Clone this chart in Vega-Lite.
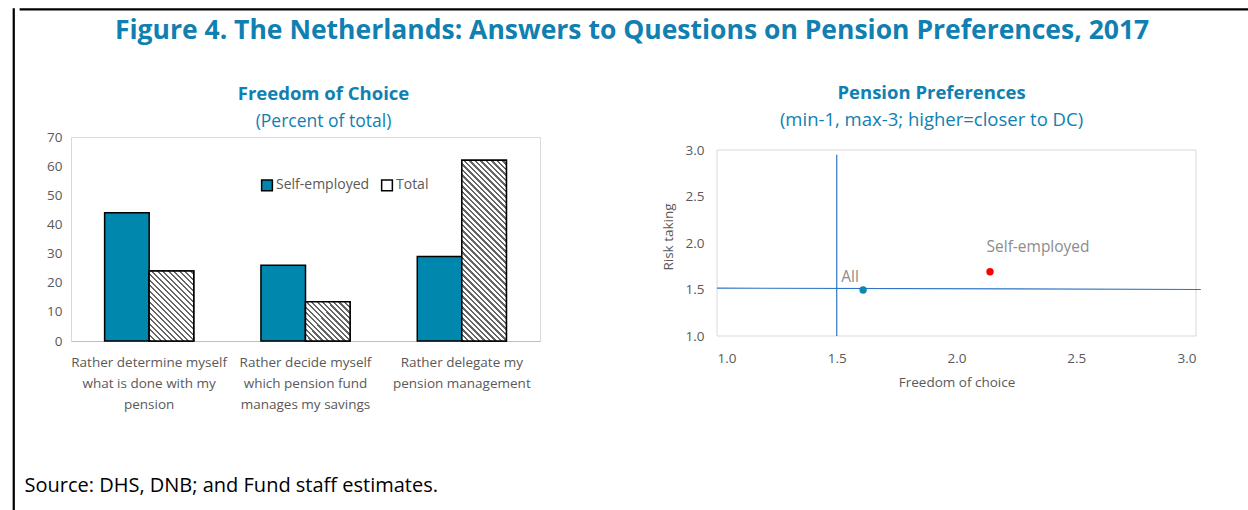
{
 "$schema": "https://vega.github.io/schema/vega-lite/v6.json",
 "background": "white",
 "padding": {"left": 10, "top": 5.5, "right": 0, "bottom": 0},
 "spacing": 0,
 "config": {
   "font": "Open Sans",
   "view": {"stroke": null},
   "axis": {"labelFont": "Open Sans", "titleFont": "Open Sans", "labelColor": "#595959", "titleColor": "#595959", "labelFontSize": 13.5, "titleFontSize": 13.5, "titleFontWeight": "normal", "grid": false},
   "legend": {"labelFont": "Open Sans"},
   "title": {"font": "Open Sans", "subtitleFont": "Open Sans"}
 },
 "hconcat": [
   {"width": 1, "height": 503, "data": {"values": [{}]}, "mark": {"type": "point", "opacity": 0}, "view": {"stroke": "#000", "strokeWidth": 1.25}},
   {"spacing": 5.5, "vconcat": [
     {"width": 1235, "height": 1, "data": {"values": [{}]}, "mark": {"type": "point", "opacity": 0}, "view": {"stroke": "#000", "strokeWidth": 1.25}},
     {"title": {"text": "Figure 4. The Netherlands: Answers to Questions on Pension Preferences, 2017", "fontSize": 26.5, "fontWeight": "bold", "color": "#0f80b1", "anchor": "middle", "dx": 22.5, "offset": 39},
      "spacing": 0,
      "hconcat": [
       {"width": 1, "height": 1, "data": {"values": [{}]}, "mark": {"type": "point", "opacity": 0}},
       {"spacing": 120,
        "resolve": {"scale": {"color": "independent"}, "legend": {"color": "independent"}},
        "title": {"text": "Source: DHS, DNB; and Fund staff estimates.", "orient": "bottom", "anchor": "start", "fontSize": 20, "fontWeight": "normal", "color": "#000000", "dx": 0, "offset": 65},
        "hconcat": [
         {
          "width": 469, "height": 204,
          "view": {"stroke": "#d9d9d9", "strokeWidth": 1},
          "title": {"text": "Freedom of Choice", "subtitle": "(Percent of total)", "fontSize": 18.5, "fontWeight": "bold", "color": "#0f80b1", "subtitleColor": "#0f80b1", "subtitleFontSize": 17.5, "subtitlePadding": 9.5, "anchor": "middle", "frame": "group", "dx": 18, "offset": 0},
          "data": {"values": [
            {"q": "Rather determine myself what is done with my pension", "series": "Self-employed", "value": 44},
            {"q": "Rather determine myself what is done with my pension", "series": "Total", "value": 24},
            {"q": "Rather decide myself which pension fund manages my savings", "series": "Self-employed", "value": 26},
            {"q": "Rather decide myself which pension fund manages my savings", "series": "Total", "value": 13.5},
            {"q": "Rather delegate my pension management", "series": "Self-employed", "value": 29},
            {"q": "Rather delegate my pension management", "series": "Total", "value": 62}
          ]},
          "resolve": {"axis": {"x": "independent"}},
          "encoding": {
            "xOffset": {"field": "series", "type": "nominal", "sort": ["Self-employed", "Total"], "scale": {"paddingInner": 0, "paddingOuter": 0}},
            "y": {"field": "value", "type": "quantitative", "scale": {"domain": [0, 70], "nice": false},
                  "axis": {"title": null, "values": [0, 10, 20, 30, 40, 50, 60, 70], "domain": false, "ticks": false, "labelPadding": 9, "minExtent": 46}}
          },
          "layer": [
            {"mark": {"type": "bar", "stroke": "#000000", "strokeWidth": 1.5},
             "encoding": {
               "x": {"field": "q", "type": "nominal", "sort": null, "scale": {"paddingInner": 0.43, "paddingOuter": 0.215},
                  "axis": {"title": null, "orient": "bottom", "labelAngle": 0, "domain": true, "domainColor": "#bfbfbf", "ticks": false, "labelLineHeight": 21, "labelPadding": 14, "labelBaseline": "top",
                           "labelExpr": "datum.label == 'Rather determine myself what is done with my pension' ? ['Rather determine myself', 'what is done with my', 'pension'] : datum.label == 'Rather decide myself which pension fund manages my savings' ? ['Rather decide myself', 'which pension fund', 'manages my savings'] : ['Rather delegate my', 'pension management']"}},
               "color": {"field": "series", "type": "nominal", "scale": {"domain": ["Self-employed", "Total"], "range": ["#0087ad", "#ffffff"]},
               "legend": {"title": null, "orient": "none", "legendX": 189, "legendY": 41, "direction": "horizontal", "padding": 0, "symbolType": "square", "symbolSize": 115, "symbolStrokeColor": "#000000", "symbolStrokeWidth": 1.5, "symbolOpacity": 1, "labelFontSize": 14, "labelColor": "#595959", "columnPadding": 8, "labelOffset": 2,
                 "encode": {"symbols": {"update": {"fill": [{"test": "datum.value === 'Total'", "value": {"gradient": "linear", "x1": 0, "y1": 1, "x2": 1, "y2": 0, "stops": [{"offset": 0, "color": "#fff"}, {"offset": 0.2, "color": "#fff"}, {"offset": 0.2, "color": "#555"}, {"offset": 0.3, "color": "#555"}, {"offset": 0.3, "color": "#fff"}, {"offset": 0.44, "color": "#fff"}, {"offset": 0.44, "color": "#333"}, {"offset": 0.56, "color": "#333"}, {"offset": 0.56, "color": "#fff"}, {"offset": 0.7, "color": "#fff"}, {"offset": 0.7, "color": "#555"}, {"offset": 0.8, "color": "#555"}, {"offset": 0.8, "color": "#fff"}, {"offset": 1, "color": "#fff"}]}}, {"value": "#0087ad"}], "stroke": {"value": "#000000"}}}}}}}},
            {"transform": [{"filter": "datum.series === 'Total'"}],
             "mark": {"type": "bar", "stroke": "#000000", "strokeWidth": 1.5},
             "encoding": {
               "x": {"field": "q", "type": "nominal", "sort": null,
                  "axis": {"title": null, "orient": "bottom", "labels": false, "domain": false, "ticks": true, "tickBand": "extent", "tickSize": 4.5, "offset": -4.5, "tickColor": "#bfbfbf", "tickWidth": 1}},
               "fill": {
               "condition": [
                 {"test": "datum.q === 'Rather determine myself what is done with my pension'", "value": {"gradient": "linear", "x1": 0, "y1": 1, "x2": 0.8909, "y2": -0.3984, "stops": [
{"offset":0,"color":"#666"},{"offset":0.016,"color":"#666"},{"offset":0.016,"color":"#fff"},{"offset":0.04,"color":"#fff"},
{"offset":0.04,"color":"#666"},{"offset":0.056,"color":"#666"},{"offset":0.056,"color":"#fff"},{"offset":0.08,"color":"#fff"},
{"offset":0.08,"color":"#666"},{"offset":0.096,"color":"#666"},{"offset":0.096,"color":"#fff"},{"offset":0.12,"color":"#fff"},
{"offset":0.12,"color":"#666"},{"offset":0.136,"color":"#666"},{"offset":0.136,"color":"#fff"},{"offset":0.16,"color":"#fff"},
{"offset":0.16,"color":"#666"},{"offset":0.176,"color":"#666"},{"offset":0.176,"color":"#fff"},{"offset":0.2,"color":"#fff"},
{"offset":0.2,"color":"#666"},{"offset":0.216,"color":"#666"},{"offset":0.216,"color":"#fff"},{"offset":0.24,"color":"#fff"},
{"offset":0.24,"color":"#666"},{"offset":0.256,"color":"#666"},{"offset":0.256,"color":"#fff"},{"offset":0.28,"color":"#fff"},
{"offset":0.28,"color":"#666"},{"offset":0.296,"color":"#666"},{"offset":0.296,"color":"#fff"},{"offset":0.32,"color":"#fff"},
{"offset":0.32,"color":"#666"},{"offset":0.336,"color":"#666"},{"offset":0.336,"color":"#fff"},{"offset":0.36,"color":"#fff"},
{"offset":0.36,"color":"#666"},{"offset":0.376,"color":"#666"},{"offset":0.376,"color":"#fff"},{"offset":0.4,"color":"#fff"},
{"offset":0.4,"color":"#666"},{"offset":0.416,"color":"#666"},{"offset":0.416,"color":"#fff"},{"offset":0.44,"color":"#fff"},
{"offset":0.44,"color":"#666"},{"offset":0.456,"color":"#666"},{"offset":0.456,"color":"#fff"},{"offset":0.48,"color":"#fff"},
{"offset":0.48,"color":"#666"},{"offset":0.496,"color":"#666"},{"offset":0.496,"color":"#fff"},{"offset":0.52,"color":"#fff"},
{"offset":0.52,"color":"#666"},{"offset":0.536,"color":"#666"},{"offset":0.536,"color":"#fff"},{"offset":0.56,"color":"#fff"},
{"offset":0.56,"color":"#666"},{"offset":0.576,"color":"#666"},{"offset":0.576,"color":"#fff"},{"offset":0.6,"color":"#fff"},
{"offset":0.6,"color":"#666"},{"offset":0.616,"color":"#666"},{"offset":0.616,"color":"#fff"},{"offset":0.64,"color":"#fff"},
{"offset":0.64,"color":"#666"},{"offset":0.656,"color":"#666"},{"offset":0.656,"color":"#fff"},{"offset":0.68,"color":"#fff"},
{"offset":0.68,"color":"#666"},{"offset":0.696,"color":"#666"},{"offset":0.696,"color":"#fff"},{"offset":0.72,"color":"#fff"},
{"offset":0.72,"color":"#666"},{"offset":0.736,"color":"#666"},{"offset":0.736,"color":"#fff"},{"offset":0.76,"color":"#fff"},
{"offset":0.76,"color":"#666"},{"offset":0.776,"color":"#666"},{"offset":0.776,"color":"#fff"},{"offset":0.8,"color":"#fff"},
{"offset":0.8,"color":"#666"},{"offset":0.816,"color":"#666"},{"offset":0.816,"color":"#fff"},{"offset":0.84,"color":"#fff"},
{"offset":0.84,"color":"#666"},{"offset":0.856,"color":"#666"},{"offset":0.856,"color":"#fff"},{"offset":0.88,"color":"#fff"}
                 ]}},
                 {"test": "datum.q === 'Rather decide myself which pension fund manages my savings'", "value": {"gradient": "linear", "x1": 0, "y1": 1, "x2": 1.7341, "y2": -0.531, "stops": [
{"offset":0,"color":"#666"},{"offset":0.016,"color":"#666"},{"offset":0.016,"color":"#fff"},{"offset":0.04,"color":"#fff"},
{"offset":0.04,"color":"#666"},{"offset":0.056,"color":"#666"},{"offset":0.056,"color":"#fff"},{"offset":0.08,"color":"#fff"},
{"offset":0.08,"color":"#666"},{"offset":0.096,"color":"#666"},{"offset":0.096,"color":"#fff"},{"offset":0.12,"color":"#fff"},
{"offset":0.12,"color":"#666"},{"offset":0.136,"color":"#666"},{"offset":0.136,"color":"#fff"},{"offset":0.16,"color":"#fff"},
{"offset":0.16,"color":"#666"},{"offset":0.176,"color":"#666"},{"offset":0.176,"color":"#fff"},{"offset":0.2,"color":"#fff"},
{"offset":0.2,"color":"#666"},{"offset":0.216,"color":"#666"},{"offset":0.216,"color":"#fff"},{"offset":0.24,"color":"#fff"},
{"offset":0.24,"color":"#666"},{"offset":0.256,"color":"#666"},{"offset":0.256,"color":"#fff"},{"offset":0.28,"color":"#fff"},
{"offset":0.28,"color":"#666"},{"offset":0.296,"color":"#666"},{"offset":0.296,"color":"#fff"},{"offset":0.32,"color":"#fff"},
{"offset":0.32,"color":"#666"},{"offset":0.336,"color":"#666"},{"offset":0.336,"color":"#fff"},{"offset":0.36,"color":"#fff"},
{"offset":0.36,"color":"#666"},{"offset":0.376,"color":"#666"},{"offset":0.376,"color":"#fff"},{"offset":0.4,"color":"#fff"},
{"offset":0.4,"color":"#666"},{"offset":0.416,"color":"#666"},{"offset":0.416,"color":"#fff"},{"offset":0.44,"color":"#fff"},
{"offset":0.44,"color":"#666"},{"offset":0.456,"color":"#666"},{"offset":0.456,"color":"#fff"},{"offset":0.48,"color":"#fff"},
{"offset":0.48,"color":"#666"},{"offset":0.496,"color":"#666"},{"offset":0.496,"color":"#fff"},{"offset":0.52,"color":"#fff"},
{"offset":0.52,"color":"#666"},{"offset":0.536,"color":"#666"},{"offset":0.536,"color":"#fff"},{"offset":0.56,"color":"#fff"},
{"offset":0.56,"color":"#666"},{"offset":0.576,"color":"#666"},{"offset":0.576,"color":"#fff"},{"offset":0.6,"color":"#fff"},
{"offset":0.6,"color":"#666"},{"offset":0.616,"color":"#666"},{"offset":0.616,"color":"#fff"},{"offset":0.64,"color":"#fff"},
{"offset":0.64,"color":"#666"},{"offset":0.656,"color":"#666"},{"offset":0.656,"color":"#fff"},{"offset":0.68,"color":"#fff"}
                 ]}}
               ],
               "value": {"gradient": "linear", "x1": 0, "y1": 1, "x2": 0.3538, "y2": -0.4347, "stops": [
{"offset":0,"color":"#666"},{"offset":0.008,"color":"#666"},{"offset":0.008,"color":"#fff"},{"offset":0.02,"color":"#fff"},
{"offset":0.02,"color":"#666"},{"offset":0.028,"color":"#666"},{"offset":0.028,"color":"#fff"},{"offset":0.04,"color":"#fff"},
{"offset":0.04,"color":"#666"},{"offset":0.048,"color":"#666"},{"offset":0.048,"color":"#fff"},{"offset":0.06,"color":"#fff"},
{"offset":0.06,"color":"#666"},{"offset":0.068,"color":"#666"},{"offset":0.068,"color":"#fff"},{"offset":0.08,"color":"#fff"},
{"offset":0.08,"color":"#666"},{"offset":0.088,"color":"#666"},{"offset":0.088,"color":"#fff"},{"offset":0.1,"color":"#fff"},
{"offset":0.1,"color":"#666"},{"offset":0.108,"color":"#666"},{"offset":0.108,"color":"#fff"},{"offset":0.12,"color":"#fff"},
{"offset":0.12,"color":"#666"},{"offset":0.128,"color":"#666"},{"offset":0.128,"color":"#fff"},{"offset":0.14,"color":"#fff"},
{"offset":0.14,"color":"#666"},{"offset":0.148,"color":"#666"},{"offset":0.148,"color":"#fff"},{"offset":0.16,"color":"#fff"},
{"offset":0.16,"color":"#666"},{"offset":0.168,"color":"#666"},{"offset":0.168,"color":"#fff"},{"offset":0.18,"color":"#fff"},
{"offset":0.18,"color":"#666"},{"offset":0.188,"color":"#666"},{"offset":0.188,"color":"#fff"},{"offset":0.2,"color":"#fff"},
{"offset":0.2,"color":"#666"},{"offset":0.208,"color":"#666"},{"offset":0.208,"color":"#fff"},{"offset":0.22,"color":"#fff"},
{"offset":0.22,"color":"#666"},{"offset":0.228,"color":"#666"},{"offset":0.228,"color":"#fff"},{"offset":0.24,"color":"#fff"},
{"offset":0.24,"color":"#666"},{"offset":0.248,"color":"#666"},{"offset":0.248,"color":"#fff"},{"offset":0.26,"color":"#fff"},
{"offset":0.26,"color":"#666"},{"offset":0.268,"color":"#666"},{"offset":0.268,"color":"#fff"},{"offset":0.28,"color":"#fff"},
{"offset":0.28,"color":"#666"},{"offset":0.288,"color":"#666"},{"offset":0.288,"color":"#fff"},{"offset":0.3,"color":"#fff"},
{"offset":0.3,"color":"#666"},{"offset":0.308,"color":"#666"},{"offset":0.308,"color":"#fff"},{"offset":0.32,"color":"#fff"},
{"offset":0.32,"color":"#666"},{"offset":0.328,"color":"#666"},{"offset":0.328,"color":"#fff"},{"offset":0.34,"color":"#fff"},
{"offset":0.34,"color":"#666"},{"offset":0.348,"color":"#666"},{"offset":0.348,"color":"#fff"},{"offset":0.36,"color":"#fff"},
{"offset":0.36,"color":"#666"},{"offset":0.368,"color":"#666"},{"offset":0.368,"color":"#fff"},{"offset":0.38,"color":"#fff"},
{"offset":0.38,"color":"#666"},{"offset":0.388,"color":"#666"},{"offset":0.388,"color":"#fff"},{"offset":0.4,"color":"#fff"},
{"offset":0.4,"color":"#666"},{"offset":0.408,"color":"#666"},{"offset":0.408,"color":"#fff"},{"offset":0.42,"color":"#fff"},
{"offset":0.42,"color":"#666"},{"offset":0.428,"color":"#666"},{"offset":0.428,"color":"#fff"},{"offset":0.44,"color":"#fff"},
{"offset":0.44,"color":"#666"},{"offset":0.448,"color":"#666"},{"offset":0.448,"color":"#fff"},{"offset":0.46,"color":"#fff"},
{"offset":0.46,"color":"#666"},{"offset":0.468,"color":"#666"},{"offset":0.468,"color":"#fff"},{"offset":0.48,"color":"#fff"},
{"offset":0.48,"color":"#666"},{"offset":0.488,"color":"#666"},{"offset":0.488,"color":"#fff"},{"offset":0.5,"color":"#fff"},
{"offset":0.5,"color":"#666"},{"offset":0.508,"color":"#666"},{"offset":0.508,"color":"#fff"},{"offset":0.52,"color":"#fff"},
{"offset":0.52,"color":"#666"},{"offset":0.528,"color":"#666"},{"offset":0.528,"color":"#fff"},{"offset":0.54,"color":"#fff"},
{"offset":0.54,"color":"#666"},{"offset":0.548,"color":"#666"},{"offset":0.548,"color":"#fff"},{"offset":0.56,"color":"#fff"},
{"offset":0.56,"color":"#666"},{"offset":0.568,"color":"#666"},{"offset":0.568,"color":"#fff"},{"offset":0.58,"color":"#fff"},
{"offset":0.58,"color":"#666"},{"offset":0.588,"color":"#666"},{"offset":0.588,"color":"#fff"},{"offset":0.6,"color":"#fff"},
{"offset":0.6,"color":"#666"},{"offset":0.608,"color":"#666"},{"offset":0.608,"color":"#fff"},{"offset":0.62,"color":"#fff"},
{"offset":0.62,"color":"#666"},{"offset":0.628,"color":"#666"},{"offset":0.628,"color":"#fff"},{"offset":0.64,"color":"#fff"},
{"offset":0.64,"color":"#666"},{"offset":0.648,"color":"#666"},{"offset":0.648,"color":"#fff"},{"offset":0.66,"color":"#fff"},
{"offset":0.66,"color":"#666"},{"offset":0.668,"color":"#666"},{"offset":0.668,"color":"#fff"},{"offset":0.68,"color":"#fff"},
{"offset":0.68,"color":"#666"},{"offset":0.688,"color":"#666"},{"offset":0.688,"color":"#fff"},{"offset":0.7,"color":"#fff"},
{"offset":0.7,"color":"#666"},{"offset":0.708,"color":"#666"},{"offset":0.708,"color":"#fff"},{"offset":0.72,"color":"#fff"},
{"offset":0.72,"color":"#666"},{"offset":0.728,"color":"#666"},{"offset":0.728,"color":"#fff"},{"offset":0.74,"color":"#fff"},
{"offset":0.74,"color":"#666"},{"offset":0.748,"color":"#666"},{"offset":0.748,"color":"#fff"},{"offset":0.76,"color":"#fff"},
{"offset":0.76,"color":"#666"},{"offset":0.768,"color":"#666"},{"offset":0.768,"color":"#fff"},{"offset":0.78,"color":"#fff"},
{"offset":0.78,"color":"#666"},{"offset":0.788,"color":"#666"},{"offset":0.788,"color":"#fff"},{"offset":0.8,"color":"#fff"},
{"offset":0.8,"color":"#666"},{"offset":0.808,"color":"#666"},{"offset":0.808,"color":"#fff"},{"offset":0.82,"color":"#fff"},
{"offset":0.82,"color":"#666"},{"offset":0.828,"color":"#666"},{"offset":0.828,"color":"#fff"},{"offset":0.84,"color":"#fff"}
               ]}
             }}}
          ]
         },
         {
          "width": 479, "height": 199,
          "title": {"text": "Pension Preferences", "subtitle": "(min-1, max-3; higher=closer to DC)", "fontSize": 18.5, "fontWeight": "bold", "color": "#0f80b1", "subtitleColor": "#0f80b1", "subtitleFontSize": 18.5, "subtitlePadding": 8.5, "anchor": "middle", "frame": "group", "dx": -25, "offset": 8},
          "data": {"values": [
            {"group": "All", "freedom": 1.61, "risk": 1.495},
            {"group": "Self-employed", "freedom": 2.14, "risk": 1.69}
          ]},
          "encoding": {
            "x": {"field": "freedom", "type": "quantitative", "scale": {"domain": [1, 3], "nice": false, "zero": false},
                  "axis": {"title": "Freedom of choice", "values": [1, 1.5, 2, 2.5, 3], "format": ".1f", "domain": false, "ticks": false, "labelPadding": 15, "titlePadding": 11}},
            "y": {"field": "risk", "type": "quantitative", "scale": {"domain": [1, 3.1398], "nice": false, "zero": false},
                  "axis": {"title": "Risk taking", "values": [1, 1.5, 2, 2.5, 3], "format": ".1f", "domain": false, "ticks": false, "labelPadding": 13, "titlePadding": 10}}
          },
          "layer": [
            {"data": {"values": [{"freedom": 1, "freedom2": 3, "risk": 1, "risk2": 3}]},
             "mark": {"type": "rect", "filled": false, "stroke": "#d9d9d9", "strokeWidth": 1},
             "encoding": {"x2": {"field": "freedom2"}, "y2": {"field": "risk2"}}},
            {"data": {"values": [
               {"freedom": 1.5, "freedom2": 1.5, "risk": 1.0, "risk2": 2.95},
               {"freedom": 1.0, "freedom2": 3.02, "risk": 1.515, "risk2": 1.5}
             ]},
             "mark": {"type": "rule", "color": "#2f75c4", "strokeWidth": 1.2},
             "encoding": {"x2": {"field": "freedom2"}, "y2": {"field": "risk2"}}},
            {"mark": {"type": "circle", "size": 55, "opacity": 1},
             "encoding": {"color": {"field": "group", "type": "nominal", "scale": {"domain": ["All", "Self-employed"], "range": ["#0e86b4", "#ff0000"]}, "legend": null}}},
            {"transform": [{"filter": "datum.group === 'All'"}],
             "mark": {"type": "text", "dx": -13, "dy": -13, "align": "center", "baseline": "middle", "fontSize": 15.5, "color": "#8c8c8c"},
             "encoding": {"text": {"field": "group"}}},
            {"transform": [{"filter": "datum.group === 'Self-employed'"}],
             "mark": {"type": "text", "dx": 48, "dy": -25, "align": "center", "baseline": "middle", "fontSize": 15.5, "color": "#8c8c8c"},
             "encoding": {"text": {"field": "group"}}}
          ]
         }
        ]
       }
      ]
     }
   ]}
 ]
}
